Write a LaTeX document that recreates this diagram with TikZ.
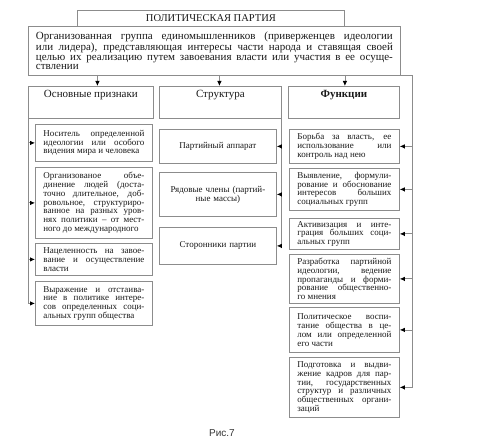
\documentclass[tikz,border=0pt]{standalone}
\usepackage{fontspec}
\setmainfont{Liberation Serif}
\newfontfamily\capfont{Liberation Sans}
\usetikzlibrary{arrows.meta}

\tikzset{
  frame/.style={draw=black!45, line width=0.8pt},
  box/.style={frame, anchor=north west, inner sep=0pt, text=black!90},
  head/.style={box, minimum width=#1, font=\fontsize{11}{11}\selectfont,
    inner ysep=3pt, text height=8pt, text depth=18pt},
  item/.style={box, text width=#1, inner xsep=8pt, align=justify,
    font=\fontsize{9}{8.8}\selectfont},
  part/.style={box, text width=101pt, inner xsep=8pt, align=center,
    font=\fontsize{9}{9}\selectfont},
  feed/.style={frame, -{Latex[length=5pt,width=4.5pt,color=black]}},
}

\begin{document}
\begin{tikzpicture}[x=1pt,y=-1pt]
\useasboundingbox (0,0) rectangle (483,444);

% title and definition
\node[box, minimum width=267pt, minimum height=16pt,
  font=\fontsize{10.5}{12}\selectfont] (title) at (77,10) {ПОЛИТИЧЕСКАЯ ПАРТИЯ};
\node[box, text width=357pt, inner xsep=7.5pt, minimum height=49pt, align=justify,
  font=\fontsize{11}{9.8}\selectfont] (def) at (28,26)
  {Организованная группа единомышленников (приверженцев идеологии\linebreak
   или лидера), представляющая интересы части народа и ставящая своей\linebreak
   целью их реализацию путем завоевания власти или участия в ее осуще-\linebreak
   ствлении};

% column heads
\node[head=125pt] (h1) at (28,86) {Основные признаки};
\node[head=122pt] (h2) at (159,86) {Структура};
\node[head=111pt] (h3) at (288,86) {\bfseries Функции};

% features
\node[item=101pt, minimum height=37pt] (p1) at (35,124)
  {Носитель определенной\linebreak идеологии или особого\linebreak видения мира и человека};
\node[item=101pt, minimum height=71pt] (p2) at (35,167)
  {Организованое объе-\linebreak динение людей (доста-\linebreak точно длительное, доб-\linebreak
   ровольное, структуриро-\linebreak ванное на разных уров-\linebreak нях политики – от мест-\linebreak
   ного до международного};
\node[item=101pt, minimum height=32pt] (p3) at (35,243)
  {Нацеленность на завое-\linebreak вание и осуществление\linebreak власти};
\node[item=101pt, minimum height=44pt] (p4) at (35,281)
  {Выражение и отстаива-\linebreak ние в политике интере-\linebreak сов определенных соци-\linebreak
   альных групп общества};

% structure
\node[part, minimum height=34pt] (s1) at (159,129) {Партийный аппарат};
\node[part, minimum height=44pt] (s2) at (159,172) {Рядовые члены (партий-\\ные массы)};
\node[part, minimum height=37pt] (s3) at (159,227) {Сторонники партии};

% functions
\node[item=94pt, minimum height=34pt] (f1) at (289,129)
  {Борьба за власть, ее\linebreak использование или\linebreak контроль над нею};
\node[item=94pt, minimum height=42pt] (f2) at (289,168)
  {Выявление, формули-\linebreak рование и обоснование\linebreak интересов больших\linebreak
   социальных групп};
\node[item=94pt, minimum height=31pt] (f3) at (289,218)
  {Активизация и инте-\linebreak грация больших соци-\linebreak альных групп};
\node[item=94pt, minimum height=49pt] (f4) at (289,254)
  {Разработка партийной\linebreak идеологии, ведение\linebreak пропаганды и форми-\linebreak
   рование общественно-\linebreak го мнения};
\node[item=94pt, minimum height=45pt] (f5) at (289,307)
  {Политическое воспи-\linebreak тание общества в це-\linebreak лом или определенной\linebreak
   его части};
\node[item=94pt, minimum height=60pt] (f6) at (289,357)
  {Подготовка и выдви-\linebreak жение кадров для пар-\linebreak тии, государственных\linebreak
   структур и различных\linebreak общественных органи-\linebreak заций};

% connectors
\foreach \h/\dx in {h1/6.5,h2/-1,h3/1}
  \draw[feed] ([xshift=\dx pt]\h.north) +(0,-11) -- ([xshift=\dx pt]\h.north);

\draw[frame] (h1.south west) -- (h1.south west |- p4.west);
\foreach \p in {p1,p2,p3,p4}
  \draw[feed] (h1.south west |- \p.west) -- (\p.west);

\draw[frame] (h2.south east) -- (h2.south east |- s3.east);
\foreach \s in {s1,s2,s3}
  \draw[feed] (h2.south east |- \s.east) -- (\s.east);

\draw[frame] (def.south east) -- ++(12,0) coordinate (rt) -- (rt |- f6.east);
\foreach \i in {1,...,6}
  \draw[feed] (rt |- f\i.east) -- (f\i.east);

\node[font=\capfont\fontsize{10}{12}\selectfont, text=black!80] (cap) at (222,433) {Рис.7};

\end{tikzpicture}
\end{document}
